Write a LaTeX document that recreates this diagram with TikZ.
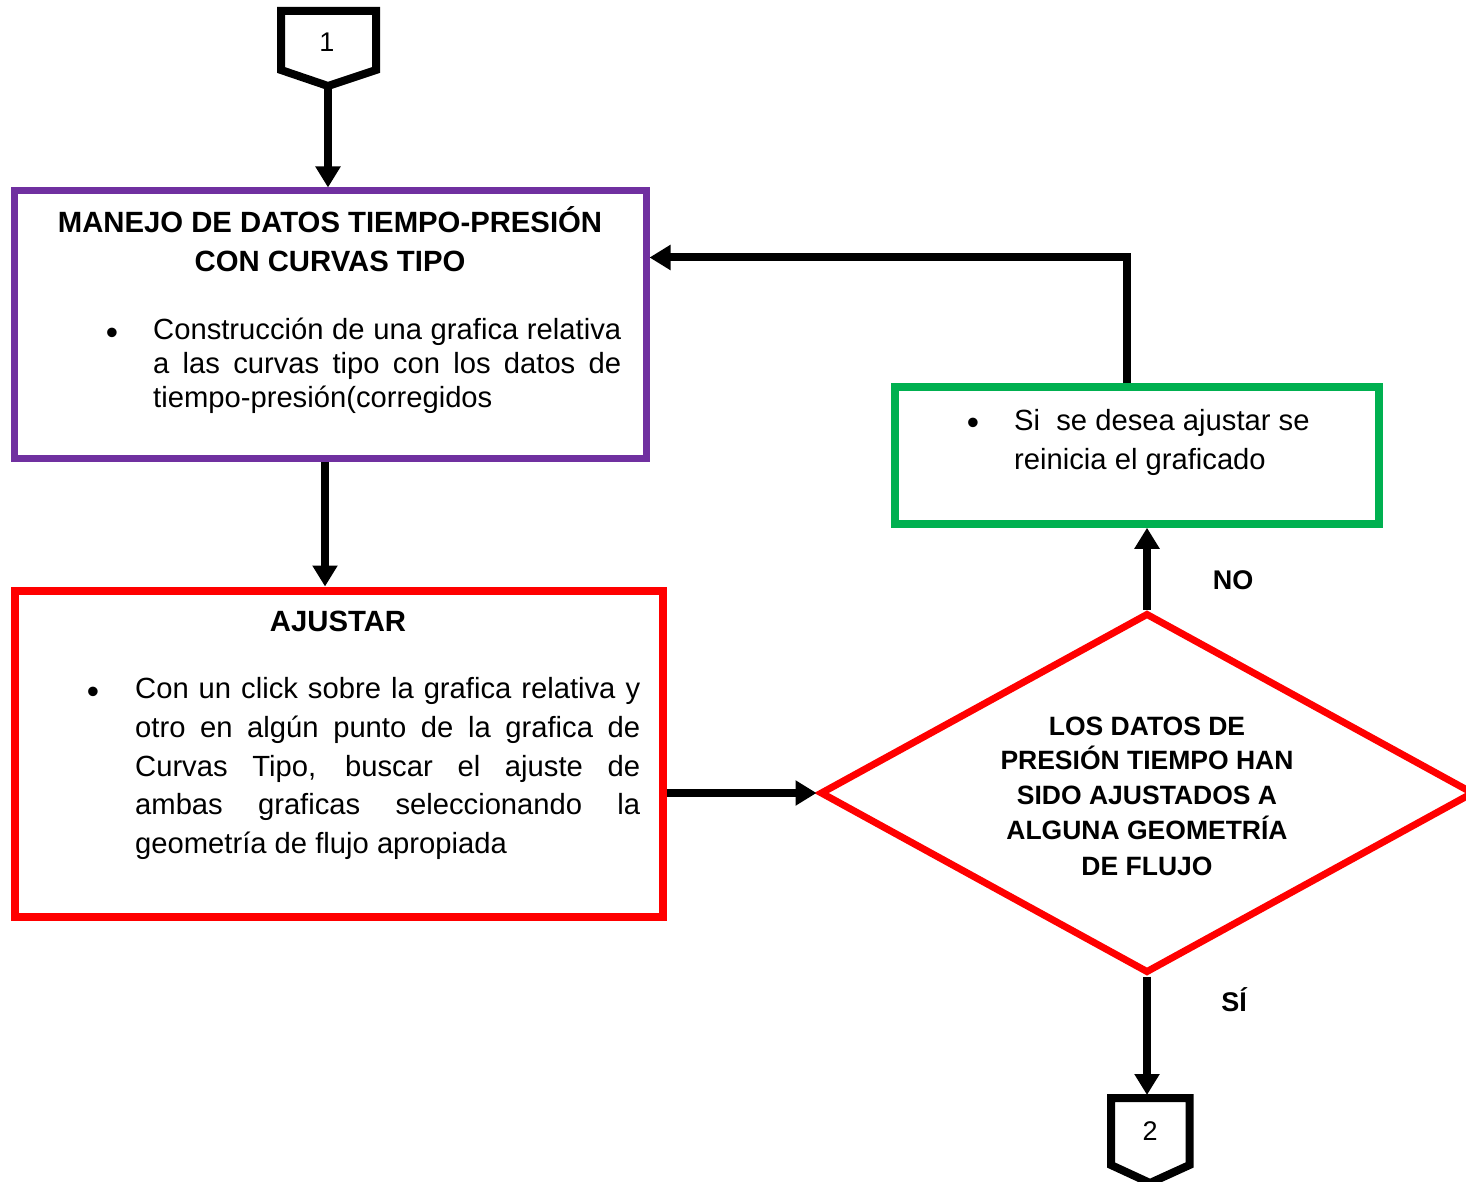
\documentclass[tikz,border=0pt]{standalone}
\usepackage{fontspec}
\setmainfont{Liberation Sans}
\usetikzlibrary{arrows.meta,shapes.geometric}
\newcommand\fbody{\fontsize{29.2}{34}\selectfont}
\newcommand\fbold{\fontsize{29.3}{34}\selectfont\bfseries}
\newcommand\fdia{\fontsize{26.5}{35}\selectfont\bfseries}
\newcommand\fnum{\fontsize{27}{30}\selectfont}
\newcommand\flab{\fontsize{27}{32}\selectfont\bfseries}
\newcommand\fblt{\fontsize{35}{35}\selectfont}
\newcommand\jline[2]{\makebox[#1][s]{#2}}
\definecolor{cpurple}{HTML}{7030A0}
\definecolor{cred}{HTML}{FF0000}
\definecolor{cgreen}{HTML}{00B050}
\begin{document}
\begin{tikzpicture}[x=1pt,y=-1pt,
  box/.style={draw, rectangle, inner sep=0pt},
  arr/.style={line width=8pt, -{Triangle[width=24pt,length=21pt]}},
  lw/.style={anchor=base west, inner sep=0pt, font=\fbody},
  ctitle/.style={anchor=base, inner sep=0pt, font=\fbold},
  dtxt/.style={anchor=base, inner sep=0pt, font=\fdia},
  blt/.style={anchor=base, inner sep=0pt, font=\fblt},
  lab/.style={anchor=base, inner sep=0pt, font=\flab},
  conn/.style={line width=8pt, line join=miter},
  num/.style={inner sep=0pt, font=\fnum}
]
\useasboundingbox (0,0) rectangle (1466,1182);
\clip (0,0) rectangle (1466,1182);

% off-page connector 1
\draw[conn] (281,11) -- (376,11) -- (376,70) -- (328,86) -- (281,70) -- cycle;
\node[num] (c1) at (327,42) {1};
\coordinate (c1tip) at (328,86);

% purple box
\node[box, draw=cpurple, line width=7pt, minimum width=632pt, minimum height=267pt] (purple) at (330,324.5) {};
\node[ctitle] (pt1) at (330,233) {MANEJO DE DATOS TIEMPO-PRESIÓN};
\node[ctitle] (pt2) at (330,271) {CON CURVAS TIPO};
\node[blt] (pb) at (112,344) {•};
\node[lw] (pl1) at (153,339) {\jline{468pt}{Construcción de una grafica relativa}};
\node[lw] (pl2) at (153,373) {\jline{468pt}{a las curvas tipo con los datos de}};
\node[lw] (pl3) at (153,407) {tiempo-presión(corregidos};

% red box
\node[box, draw=cred, line width=8pt, minimum width=648pt, minimum height=326pt] (red) at (339,753.5) {};
\node[ctitle] (rt) at (338,631) {AJUSTAR};
\node[blt] (rb) at (93,703) {•};
\node[lw] (rl1) at (135,698) {\jline{505pt}{Con un click sobre la grafica relativa y}};
\node[lw] (rl2) at (135,737) {\jline{505pt}{otro en algún punto de la grafica de}};
\node[lw] (rl3) at (135,776) {\jline{505pt}{Curvas Tipo, buscar el ajuste de}};
\node[lw] (rl4) at (135,814.5) {\jline{505pt}{ambas graficas seleccionando la}};
\node[lw] (rl5) at (135,853) {geometría de flujo apropiada};

% green box
\node[box, draw=cgreen, line width=7.5pt, minimum width=484pt, minimum height=137pt] (green) at (1137,455.5) {};
\node[blt] (gb) at (973,434) {•};
\node[lw] (gl1) at (1014,430) {Si\ \ se desea ajustar se};
\node[lw] (gl2) at (1014,469) {reinicia el graficado};

% decision diamond
\node[diamond, draw=cred, line width=7pt, minimum width=654pt, minimum height=360pt, inner sep=0pt] (dia) at (1147,793) {};
\node[dtxt] (d1) at (1147,735) {LOS DATOS DE};
\node[dtxt] (d2) at (1147,769) {PRESIÓN TIEMPO HAN};
\node[dtxt] (d3) at (1147,804) {SIDO AJUSTADOS A};
\node[dtxt] (d4) at (1147,839) {ALGUNA GEOMETRÍA};
\node[dtxt] (d5) at (1147,875) {DE FLUJO};

% labels
\node[lab] (no) at (1233,589) {NO};
\node[lab] (si) at (1234,1011) {SÍ};

% off-page connector 2
\draw[conn] (1111,1098) -- (1189.5,1098) -- (1189.5,1165) -- (1150,1183) -- (1111,1165) -- cycle;
\node[num] (c2) at (1150,1131) {2};
\coordinate (c2in) at (1147,1095);

% connectors
\draw[arr] (c1tip) -- (purple.north -| c1tip);
\draw[arr] ([xshift=-5pt]purple.south) -- ([xshift=-5pt]purple.south |- red.north);
\draw[arr] (red.east |- dia.west) -- (dia.west);
\draw[arr] (dia.north) -- (green.south -| dia.north);
\draw[arr] ([xshift=-10pt]green.north) |- ([yshift=67pt]purple.east);
\draw[arr] (dia.south) -- (c2in);
\end{tikzpicture}
\end{document}
